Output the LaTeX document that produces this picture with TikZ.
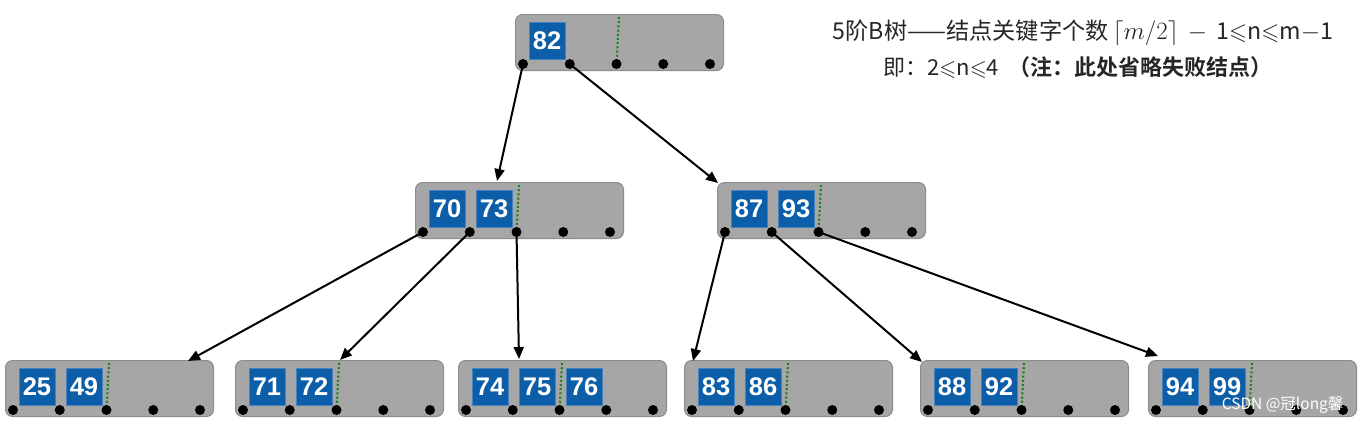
\documentclass[tikz,border=0pt]{standalone}
\usepackage{fontspec}
\usepackage{amssymb}
\setmainfont{Liberation Sans}
\newfontfamily\cjk{Noto Sans CJK SC}
\newfontfamily\cjkb{Noto Sans CJK SC Bold}
\usetikzlibrary{calc,arrows.meta}
\definecolor{boxgray}{RGB}{166,166,166}
\definecolor{boxedge}{RGB}{140,140,140}
\definecolor{keyblue}{RGB}{12,94,168}
\definecolor{keyedge}{RGB}{70,130,190}
\definecolor{midgreen}{RGB}{30,130,30}
\tikzset{
  bbox/.style={draw=boxedge, line width=1pt, fill=boxgray, rounded corners=7pt,
    minimum width=208pt, minimum height=56pt, anchor=north west, inner sep=0pt},
  bkey/.style={draw=keyedge, line width=0.6pt, fill=keyblue, minimum width=36pt, minimum height=37pt,
    inner sep=0pt, text=white, font=\fontsize{25.5}{25.5}\selectfont\bfseries},
  midline/.style={midgreen, line width=2.2pt, dash pattern=on 2pt off 2.2pt},
  ptr/.style={-{Triangle[length=12pt,width=10pt]}, line width=2pt, black},
  note/.style={font=\cjk\fontsize{22}{26}\selectfont, text=black!85}
}
\newcommand\btnode[4]{%
  \node[bbox] (#1) at (#2,#3) {};
  \foreach \j in {0,...,4} { \coordinate (#1-p\j) at ($(#1.north west)+(8+46.75*\j,50)$); }
  \draw[midline] ($(#1.north west)+(104,3)$) -- (#1-p2);
  \foreach \k [count=\i from 0] in {#4} { \node[bkey] (#1-k\i) at ($(#1.north west)+(32+47*\i,27)$) {\k}; }
  \foreach \j in {0,...,4} { \fill (#1-p\j) circle (5pt); }
}
\begin{document}
\begin{tikzpicture}[x=1pt,y=-1pt]
\useasboundingbox[fill=white] (0,0) rectangle (1362,424);
\btnode{root}{515}{14}{82}
\btnode{ma}{415}{182}{70,73}
\btnode{mb}{717}{182}{87,93}
\btnode{b1}{5}{360}{25,49}
\btnode{b2}{235}{360}{71,72}
\btnode{b3}{458}{360}{74,75,76}
\btnode{b4}{684}{360}{83,86}
\btnode{b5}{920}{360}{88,92}
\btnode{b6}{1148}{360}{94,99}
\draw[ptr] (root-p0) -- ($(ma.north west)+(82,-1)$);
\draw[ptr] (root-p1) -- ($(mb.north west)+(1,1)$);
\draw[ptr] (ma-p0) -- ($(b1.north west)+(183,1)$);
\draw[ptr] (ma-p1) -- ($(b2.north west)+(105,0)$);
\draw[ptr] (ma-p2) -- ($(b3.north west)+(61,-1)$);
\draw[ptr] (mb-p0) -- ($(b4.north west)+(9,1)$);
\draw[ptr] (mb-p1) -- ($(b5.north west)+(2,2)$);
\draw[ptr] (mb-p2) -- ($(b6.north west)+(10,-4)$);
\node[note, font=\cjk\fontsize{23.2}{26}\selectfont] (t1) at (1083,33) {5阶B树——结点关键字个数\,$\lceil m/2\rceil$ \,$-$\, 1$\leqslant$n$\leqslant$m$-$1};
\node[note] (t2) at (1078,68) {即：2$\leqslant$n$\leqslant$4 \ {\cjkb （注：此处省略失败结点）}};
\node[font=\cjk\fontsize{15.5}{15.5}\selectfont, text=white, anchor=east] (wm) at (1347,405) {CSDN @冠long馨};
\end{tikzpicture}
\end{document}
